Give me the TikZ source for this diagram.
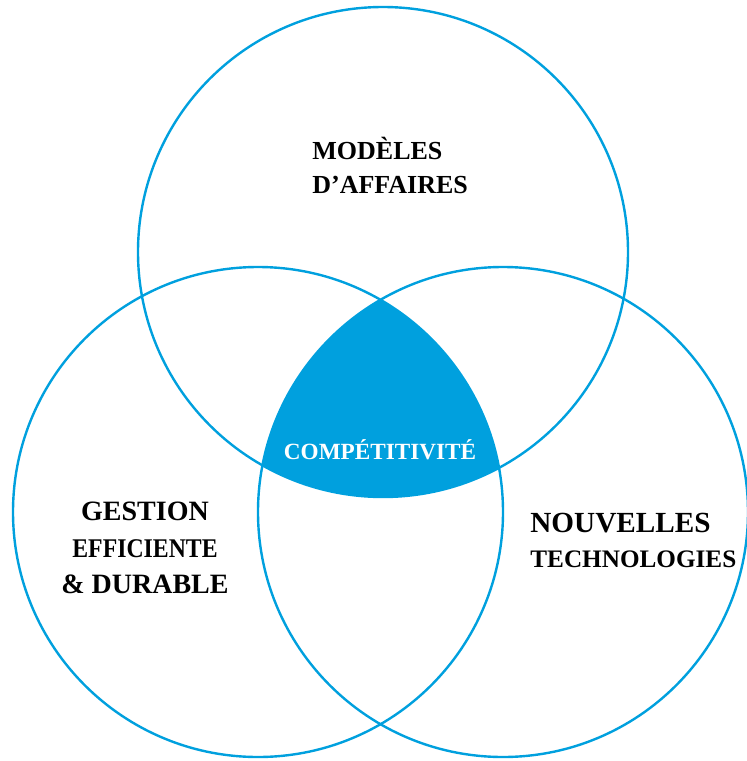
\documentclass[tikz,border=0pt]{standalone}
\usepackage{fontspec}
\setmainfont{Liberation Serif}
\usepackage{xcolor}
\usepackage{graphicx}
\usetikzlibrary{positioning}
\definecolor{vennblue}{RGB}{0,160,222}

\begin{document}
\begin{tikzpicture}[x=0.5pt, y=-0.5pt,
    ring/.style={draw=vennblue, line width=1.2pt, circle, minimum size=245pt, inner sep=0pt},
    lbl/.style={font=\bfseries, text=black, inner sep=0pt}]
    \useasboundingbox (0,0) rectangle (746,761);

    % Common area of the three circles
    \begin{scope}
        \clip (383,252) circle[radius=122.5pt];
        \clip (258,512) circle[radius=122.5pt];
        \fill[vennblue] (503,512) circle[radius=122.5pt];
    \end{scope}

    % Three circles
    \node[ring] (modeles) at (383,252) {};
    \node[ring] (gestion) at (258,512) {};
    \node[ring] (techno) at (503,512) {};

    % Labels (base = last line)
    \node[lbl, anchor=base west, align=left, font=\bfseries\fontsize{13}{17}\selectfont] (lblmodeles) at (312,193) {MODÈLES\\D’AFFAIRES};
    \node[lbl, anchor=base, text=white, font=\bfseries\fontsize{11.6}{14}\selectfont] (lblcompet) at (380,459) {COMPÉTITIVITÉ};
    \node[lbl, anchor=base, align=center, font=\bfseries\fontsize{13}{18}\selectfont] (lblgestion) at (145,593)
        {\fontsize{14}{18}\selectfont GESTION\\[0.5pt]\fontsize{13.5}{18}\selectfont\scalebox{0.88}[1]{EFFICIENTE}\\\fontsize{14}{18}\selectfont \&~DURABLE};
    \node[lbl, anchor=base west, align=left, font=\bfseries\fontsize{13}{17.5}\selectfont] (lbltechno) at (530,567)
        {\fontsize{14.6}{17.5}\selectfont NOUVELLES\\\fontsize{12.6}{17.5}\selectfont TECHNOLOGIES};
\end{tikzpicture}
\end{document}
